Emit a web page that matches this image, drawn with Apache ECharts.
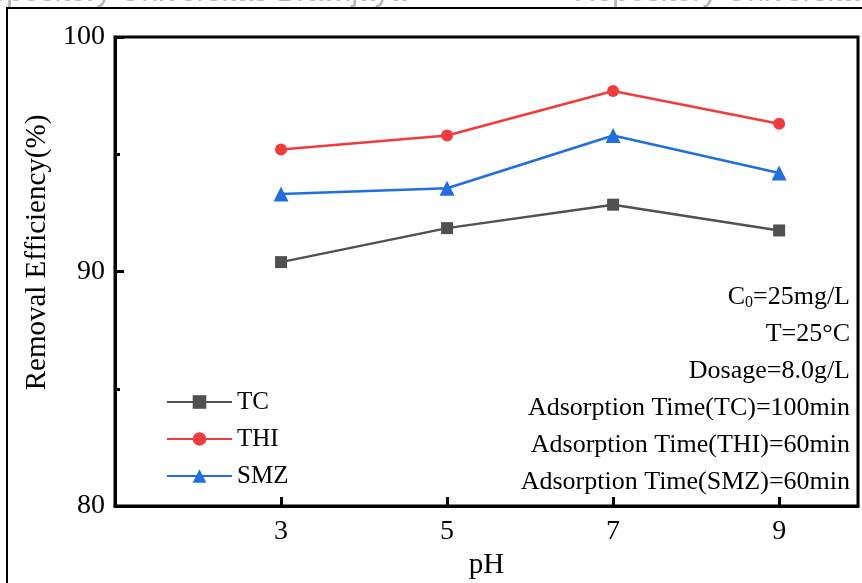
<!DOCTYPE html>
<html>
<head>
<meta charset="utf-8">
<script src="https://cdn.jsdelivr.net/npm/echarts@6/dist/echarts.min.js"></script>
<style>
html,body{margin:0;padding:0;background:#fff;}
#chart{width:862px;height:583px;}
</style>
</head>
<body>
<div id="chart"></div>
<script>
var pH = [3, 5, 7, 9];
var xTicks = [3, 5, 7, 9];
var yTicks = [80, 90, 100];
var seriesNames = ['TC', 'THI', 'SMZ'];
var tcValues = [90.4, 91.85, 92.85, 91.75];
var thiValues = [95.2, 95.8, 97.7, 96.3];
var smzValues = [93.3, 93.55, 95.8, 94.2];
var conditionLines = ['C0=25mg/L', 'T=25°C', 'Dosage=8.0g/L', 'Adsorption Time(TC)=100min', 'Adsorption Time(THI)=60min', 'Adsorption Time(SMZ)=60min'];

var FONT = '"Liberation Serif", "Times New Roman", serif';
function pairs(vals) { return pH.map(function (x, i) { return [x, vals[i]]; }); }

var colors = ['#505050', '#f23b3d', '#1f6fe0'];
var symbols = ['rect', 'circle', 'triangle'];
var sizes = [12, 12, 15];
var valueSets = [tcValues, thiValues, smzValues];

var series = seriesNames.map(function (n, i) {
  return {
    name: n, type: 'line', data: pairs(valueSets[i]),
    symbol: symbols[i], symbolSize: sizes[i],
    lineStyle: { color: colors[i], width: 2.5 },
    itemStyle: { color: colors[i] },
    emphasis: { disabled: true }, z: 3 + i
  };
});

var annot = conditionLines.map(function (s, i) {
  var txt = s.indexOf('C0') === 0 ? '{t|C}{sub|0}{t|' + s.slice(2) + '}' : '{t|' + s + '}';
  return {
    type: 'text', x: 850, y: 297 + i * 37, silent: true, z: 10,
    style: {
      text: txt, align: 'right', verticalAlign: 'middle', fill: '#000',
      rich: {
        t: { fontFamily: FONT, fontSize: 26, fill: '#000' },
        sub: { fontFamily: FONT, fontSize: 16, fill: '#000', padding: [12, 0, 0, 0] }
      }
    }
  };
});

var chart = echarts.init(document.getElementById('chart'), null, { renderer: 'canvas' });
chart.setOption({
  animation: false,
  backgroundColor: '#fff',
  grid: { left: 115, top: 37, width: 743, height: 469, show: true, borderColor: '#000', borderWidth: 3, backgroundColor: 'transparent', containLabel: false, outerBoundsMode: 'none' },
  xAxis: {
    type: 'value', min: 1, max: 9.95,
    name: 'pH', nameLocation: 'middle', nameGap: 36,
    nameTextStyle: { fontFamily: FONT, fontSize: 29, color: '#000' },
    axisLine: { show: true, onZero: false, lineStyle: { color: '#000', width: 3 } },
    axisTick: { show: true, inside: true, length: 9, customValues: xTicks, lineStyle: { color: '#000', width: 3 } },
    axisLabel: { show: true, customValues: xTicks, margin: 12, fontFamily: FONT, fontSize: 28, color: '#000' },
    splitLine: { show: false }
  },
  yAxis: {
    type: 'value', min: 80, max: 100, interval: 10,
    name: 'Removal Efficiency(%)', nameLocation: 'middle', nameGap: 60,
    nameTextStyle: { fontFamily: FONT, fontSize: 29, color: '#000', padding: [0, 0, 0, 38] },
    axisLine: { show: true, onZero: false, lineStyle: { color: '#000', width: 3 } },
    axisTick: { show: true, inside: true, length: 9, customValues: yTicks, lineStyle: { color: '#000', width: 3 } },
    minorTick: { show: true, splitNumber: 2, length: 5, lineStyle: { color: '#000', width: 3 } },
    axisLabel: { show: true, customValues: yTicks, margin: 10, fontFamily: FONT, fontSize: 28, color: '#000' },
    splitLine: { show: false }
  },
  legend: {
    orient: 'vertical', left: 161, top: 384,
    itemWidth: 65, itemHeight: 17, itemGap: 11,
    textStyle: { fontFamily: FONT, fontSize: 25, color: '#000', lineHeight: 26 },
    data: seriesNames
  },
  graphic: [
    { type: 'text', left: -32, top: -22, silent: true, z: -1,
      style: { text: 'Repository Universitas Brawijaya', fontFamily: '"Liberation Sans", Arial, sans-serif', fontSize: 30, fill: '#b5b5b5' } },
    { type: 'text', left: 574, top: -22, silent: true, z: -1,
      style: { text: 'Repository Universitas Brawijaya', fontFamily: '"Liberation Sans", Arial, sans-serif', fontSize: 30, fill: '#b5b5b5' } },
    { type: 'polyline', silent: true, z: 10,
      shape: { points: [[7, 583], [7, 8], [862, 8]] },
      style: { stroke: '#000', lineWidth: 2, fill: null } }
  ].concat(annot),
  series: series
});
</script>
</body>
</html>
